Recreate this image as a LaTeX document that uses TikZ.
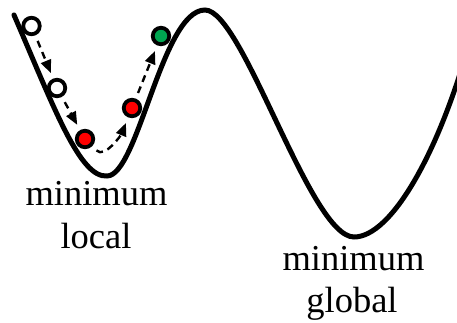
\documentclass[tikz,border=0pt]{standalone}
\usepackage{fontspec}
\setmainfont{Liberation Serif}
\newfontfamily\timesf{Liberation Serif}
\usetikzlibrary{arrows.meta}
\definecolor{ballgreen}{RGB}{0,166,81}
\begin{document}
\begin{tikzpicture}[x=1pt,y=1pt,
  ball/.style={circle,draw=black,line width=3.8pt,minimum size=16.5pt,inner sep=0pt},
  arr/.style={line width=2.4pt,dash pattern=on 7pt off 5pt,-{Triangle[length=13pt,width=10.5pt]},shorten <=6pt,shorten >=6pt},
  lbl/.style={font=\timesf\fontsize{36.5}{43}\selectfont,anchor=base,inner sep=0pt}]
\useasboundingbox (0,0) rectangle (457,-323);
\begin{scope}
\clip (0,0) rectangle (457,-323);
\draw[line width=5pt,line cap=round]
  (14,-15) .. controls (55,-110) and (80,-178) .. (107,-176)
  .. controls (138,-176) and (162,-10) .. (205,-10)
  .. controls (243,-10) and (310,-237) .. (354,-237)
  .. controls (392,-237) and (440,-150) .. (470,-40);
\end{scope}
\node[ball,fill=white] (b1) at (31.5,-26) {};
\node[ball,fill=white] (b2) at (57,-88) {};
\node[ball,fill=red] (b3) at (85,-139) {};
\node[ball,fill=red] (b4) at (132,-108) {};
\node[ball,fill=ballgreen] (b5) at (161,-36) {};
\draw[arr] (b1) -- (b2);
\draw[arr] (b2) -- (b3);
\draw[arr] (b3) to[out=-45,in=-112] (b4);
\draw[arr] (b4) -- (b5);
\node[lbl] (m1) at (96.5,-205) {minimum};
\node[lbl] (l1) at (96,-248) {local};
\node[lbl] (m2) at (353.5,-270) {minimum};
\node[lbl] (g2) at (352,-312) {global};
\end{tikzpicture}
\end{document}
